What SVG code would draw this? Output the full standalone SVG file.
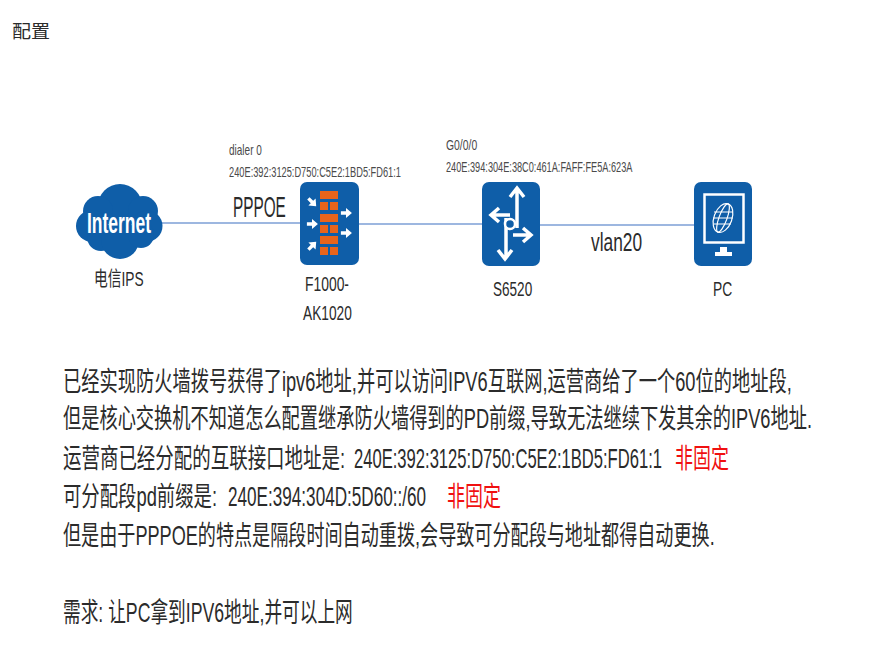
<svg xmlns="http://www.w3.org/2000/svg" width="869" height="647" viewBox="0 0 869 647">
<style>
text{font-family:"Liberation Sans","Noto Sans CJK SC",sans-serif;fill:#2b2b2b}
.body{font-size:27px}
.red{font-size:27px;fill:#f01010}
.small{font-size:14px;fill:#4a4a4a}
.lab{font-size:20px}
.conn{stroke:#7c9fd6;stroke-width:1.600;fill:none}
.box{fill:#0f5ea8}
.w{fill:#fff}
.wl{stroke:#fff;fill:none;stroke-width:3.500}
.o{fill:#e8641b}
</style>
<defs>
<path id="ar" d="M-6-2H0V-6L7 0 0 6V2H-6Z" fill="#fff"/>
</defs>
<rect width="869" height="647" fill="#fff"/>
<text x="12" y="38" style="font-size:18px" textLength="38" lengthAdjust="spacingAndGlyphs">配置</text>
<g id="connectors">
<path class="conn" d="M162 223H300"/>
<path class="conn" d="M359 224H482"/>
<path class="conn" d="M540 225H694"/>
</g>
<g id="internet">
<g class="box">
<circle cx="120" cy="206" r="22"/><circle cx="98" cy="211" r="15"/><circle cx="143" cy="211" r="15"/>
<circle cx="92" cy="226" r="16"/><circle cx="147" cy="226" r="15.500"/><circle cx="101" cy="237" r="14"/>
<circle cx="120" cy="240" r="19"/><circle cx="141" cy="235" r="13"/>
</g>
<text transform="matrix(.72 0 0 1 87 233)" style="font-size:30px;font-weight:bold;fill:#fff" textLength="89" lengthAdjust="spacingAndGlyphs">Internet</text>
<text transform="matrix(.8 0 0 1 94 286)" class="lab" textLength="62" lengthAdjust="spacingAndGlyphs">电信IPS</text>
</g>
<g id="firewall">
<rect class="box" x="300" y="182" width="59" height="83" rx="7"/>
<path class="o" d="M320 191h18v8h-18zM320 202h8v8h-8zM330 202h8v8h-8zM320 214h18v8h-18zM320 225h8v8h-8zM330 225h8v8h-8zM320 236h18v8h-18zM320 247h8v8h-8zM330 247h8v8h-8z"/>
<use href="#ar" transform="translate(312 202) rotate(45) scale(.85)"/>
<use href="#ar" transform="translate(312 224) scale(.85)"/>
<use href="#ar" transform="translate(312 246) rotate(-45) scale(.85)"/>
<use href="#ar" transform="translate(346 213) scale(.85)"/>
<use href="#ar" transform="translate(346 233) scale(.85)"/>
<text transform="matrix(.8 0 0 1 305 291)" class="lab" textLength="55" lengthAdjust="spacingAndGlyphs">F1000-</text>
<text transform="matrix(.8 0 0 1 303 320)" class="lab" textLength="61" lengthAdjust="spacingAndGlyphs">AK1020</text>
</g>
<g id="s6520">
<rect class="box" x="482" y="182" width="58" height="84" rx="7"/>
<path class="wl" d="M517 189V228M510 197L517 188 524 197"/>
<path class="wl" d="M491 215H510M499 208L491 215 499 222"/>
<path class="wl" d="M506 218V258M498 250L505 259 512 250"/>
<path class="wl" d="M513 235H531M523 228L531 235 523 242"/>
<circle cx="510" cy="224" r="5" fill="#0f5ea8" stroke="#fff" stroke-width="2.500"/>
<text transform="matrix(.8 0 0 1 493 296)" class="lab" textLength="49" lengthAdjust="spacingAndGlyphs">S6520</text>
</g>
<g id="pc">
<rect class="box" x="694" y="182" width="58" height="84" rx="7"/>
<rect x="704.500" y="194.500" width="39" height="48" fill="#0f5ea8" stroke="#fff" stroke-width="2.500"/>
<path class="w" d="M720 247h7v5h-7zM715 252h17v4h-17z"/>
<g fill="none" stroke="#fff" stroke-width="1.200">
<ellipse cx="723" cy="218" rx="9" ry="15" transform="rotate(20 723 218)"/>
<ellipse cx="723" cy="218" rx="4" ry="15" transform="rotate(20 723 218)"/>
<path d="M714 212L733 212M713 218H733M714 224H731"/>
</g>
<text transform="matrix(.8 0 0 1 713 296)" class="lab" textLength="24" lengthAdjust="spacingAndGlyphs">PC</text>
</g>
<text transform="matrix(.8 0 0 1 229 155)" class="small" textLength="41" lengthAdjust="spacingAndGlyphs">dialer 0</text>
<text transform="matrix(.8 0 0 1 229 177)" class="small" textLength="215" lengthAdjust="spacingAndGlyphs">240E:392:3125:D750:C5E2:1BD5:FD61:1</text>
<text transform="matrix(.8 0 0 1 446 150)" class="small" textLength="39" lengthAdjust="spacingAndGlyphs">G0/0/0</text>
<text transform="matrix(.8 0 0 1 446 172)" class="small" textLength="233" lengthAdjust="spacingAndGlyphs">240E:394:304E:38C0:461A:FAFF:FE5A:623A</text>
<text transform="matrix(.6 0 0 1 233 217)" style="font-size:30px" textLength="88" lengthAdjust="spacingAndGlyphs">PPPOE</text>
<text transform="matrix(.7 0 0 1 591 251)" style="font-size:26px" textLength="73" lengthAdjust="spacingAndGlyphs">vlan20</text>
<text transform="matrix(.7 0 0 1 63 391)" class="body" textLength="1041" lengthAdjust="spacingAndGlyphs">已经实现防火墙拨号获得了ipv6地址,并可以访问IPV6互联网,运营商给了一个60位的地址段,</text>
<text transform="matrix(.7 0 0 1 63 428)" class="body" textLength="1070" lengthAdjust="spacingAndGlyphs">但是核心交换机不知道怎么配置继承防火墙得到的PD前缀,导致无法继续下发其余的IPV6地址.</text>
<text transform="matrix(.7 0 0 1 63 468)" class="body" textLength="403" lengthAdjust="spacingAndGlyphs">运营商已经分配的互联接口地址是:</text>
<text transform="matrix(.7 0 0 1 354 468)" class="body" textLength="440" lengthAdjust="spacingAndGlyphs">240E:392:3125:D750:C5E2:1BD5:FD61:1</text>
<text transform="matrix(.7 0 0 1 675 468)" class="red" textLength="77" lengthAdjust="spacingAndGlyphs">非固定</text>
<text transform="matrix(.7 0 0 1 63 506)" class="body" textLength="220" lengthAdjust="spacingAndGlyphs">可分配段pd前缀是:</text>
<text transform="matrix(.7 0 0 1 228 506)" class="body" textLength="283" lengthAdjust="spacingAndGlyphs">240E:394:304D:5D60::/60</text>
<text transform="matrix(.7 0 0 1 447 506)" class="red" textLength="77" lengthAdjust="spacingAndGlyphs">非固定</text>
<text transform="matrix(.7 0 0 1 63 545)" class="body" textLength="931" lengthAdjust="spacingAndGlyphs">但是由于PPPOE的特点是隔段时间自动重拨,会导致可分配段与地址都得自动更换.</text>
<text transform="matrix(.7 0 0 1 63 622)" class="body" textLength="414" lengthAdjust="spacingAndGlyphs">需求: 让PC拿到IPV6地址,并可以上网</text>
</svg>
